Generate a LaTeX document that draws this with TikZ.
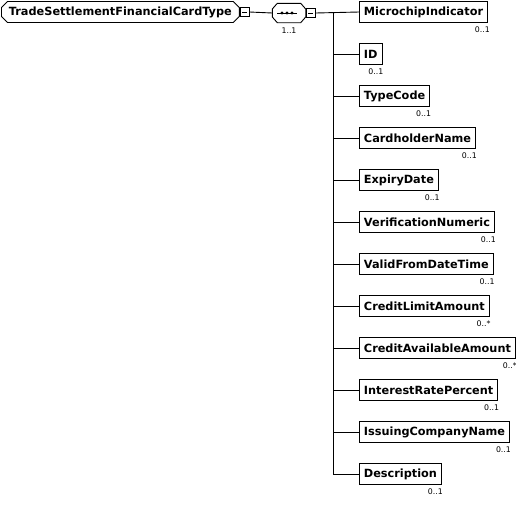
\documentclass[tikz,border=0pt]{standalone}
\usepackage{fontspec}
\setmainfont{DejaVu Sans}
\usetikzlibrary{positioning, shapes.misc, calc}

\begin{document}
\begin{tikzpicture}[x=1pt, y=-1pt,
    elembox/.style={draw, line width=0.9pt, anchor=west, inner xsep=4.5pt, inner ysep=0pt, minimum height=21pt, font=\fontsize{11.3}{13}\selectfont\bfseries},
    rootbox/.style={elembox, chamfered rectangle, chamfered rectangle xsep=3pt, chamfered rectangle ysep=3pt},
    seqbox/.style={minimum width=33pt, minimum height=19pt, inner sep=0pt},
    minusbox/.style={draw, line width=0.7pt, minimum size=8.5pt, inner sep=0pt, fill=white},
    cardlabel/.style={font=\fontsize{7.8}{8}\selectfont, inner sep=0pt},
    conn/.style={line width=0.9pt}
]
\useasboundingbox (0,0) rectangle (516,507);

% root type and sequence
\node[rootbox] (root) at (1,12) {TradeSettlementFinancialCardType};
\node[minusbox, right=0.5pt of root] (rootminus) {};
\node[seqbox] (seq) at (289,13) {};
\draw[conn] ($(seq.west)+(0,-4)$) -- ($(seq.north west)+(5,0)$) -- ($(seq.north east)+(-5,0)$) -- ($(seq.east)+(0,-4)$)
  -- ($(seq.east)+(0,4)$) -- ($(seq.south east)+(-5,0)$) -- ($(seq.south west)+(5,0)$) -- ($(seq.west)+(0,4)$) -- cycle;
\node[minusbox, right=0.5pt of seq] (seqminus) {};
\node[cardlabel, below=5pt of seq] (seqcard) {1..1};
\draw[conn] ($(seq.center)+(-12,0)$) -- ($(seq.center)+(8,0)$);
\foreach \dx in {-7,-2,3} \fill ($(seq.center)+(\dx,0)$) circle (1.6pt);

% child elements
\node[elembox] (micro) at (359,12) {MicrochipIndicator};
\node[elembox] (id) at (359,54) {ID};
\node[elembox] (typecode) at (359,96) {TypeCode};
\node[elembox] (holder) at (359,138) {CardholderName};
\node[elembox] (expiry) at (359,180) {ExpiryDate};
\node[elembox] (verif) at (359,222) {VerificationNumeric};
\node[elembox] (validfrom) at (359,264) {ValidFromDateTime};
\node[elembox] (limit) at (359,306) {CreditLimitAmount};
\node[elembox] (avail) at (359,348) {CreditAvailableAmount};
\node[elembox] (rate) at (359,390) {InterestRatePercent};
\node[elembox] (issuer) at (359,432) {IssuingCompanyName};
\node[elembox] (descr) at (359,474) {Description};

% cardinalities
\node[cardlabel, below left=4pt and -2pt of micro.south east] {0..1};
\node[cardlabel, below left=4pt and -1pt of id.south east] {0..1};
\node[cardlabel, below left=4pt and -1pt of typecode.south east] {0..1};
\node[cardlabel, below left=4pt and -1pt of holder.south east] {0..1};
\node[cardlabel, below left=4pt and -1pt of expiry.south east] {0..1};
\node[cardlabel, below left=4pt and -1pt of verif.south east] {0..1};
\node[cardlabel, below left=4pt and -1pt of validfrom.south east] {0..1};
\node[cardlabel, below left=4pt and -1pt of limit.south east] {0..*};
\node[cardlabel, below left=4pt and -1pt of avail.south east] {0..*};
\node[cardlabel, below left=4pt and -1pt of rate.south east] {0..1};
\node[cardlabel, below left=4pt and -1pt of issuer.south east] {0..1};
\node[cardlabel, below left=4pt and -1pt of descr.south east] {0..1};

% connectors
\coordinate (bus) at (333,0);
\draw[conn] (rootminus.east) -- (seq.west);
\draw[conn] (seqminus.east) -- (micro.west);
\draw[conn] (bus |- micro.west) -- (bus |- descr.west);
\foreach \c in {id, typecode, holder, expiry, verif, validfrom, limit, avail, rate, issuer, descr}
  \draw[conn] (bus |- \c.west) -- (\c.west);
\draw (rootminus.west) ++(1.8pt,0) -- ++(4.9pt,0);
\draw (seqminus.west) ++(1.8pt,0) -- ++(4.9pt,0);
\end{tikzpicture}
\end{document}
